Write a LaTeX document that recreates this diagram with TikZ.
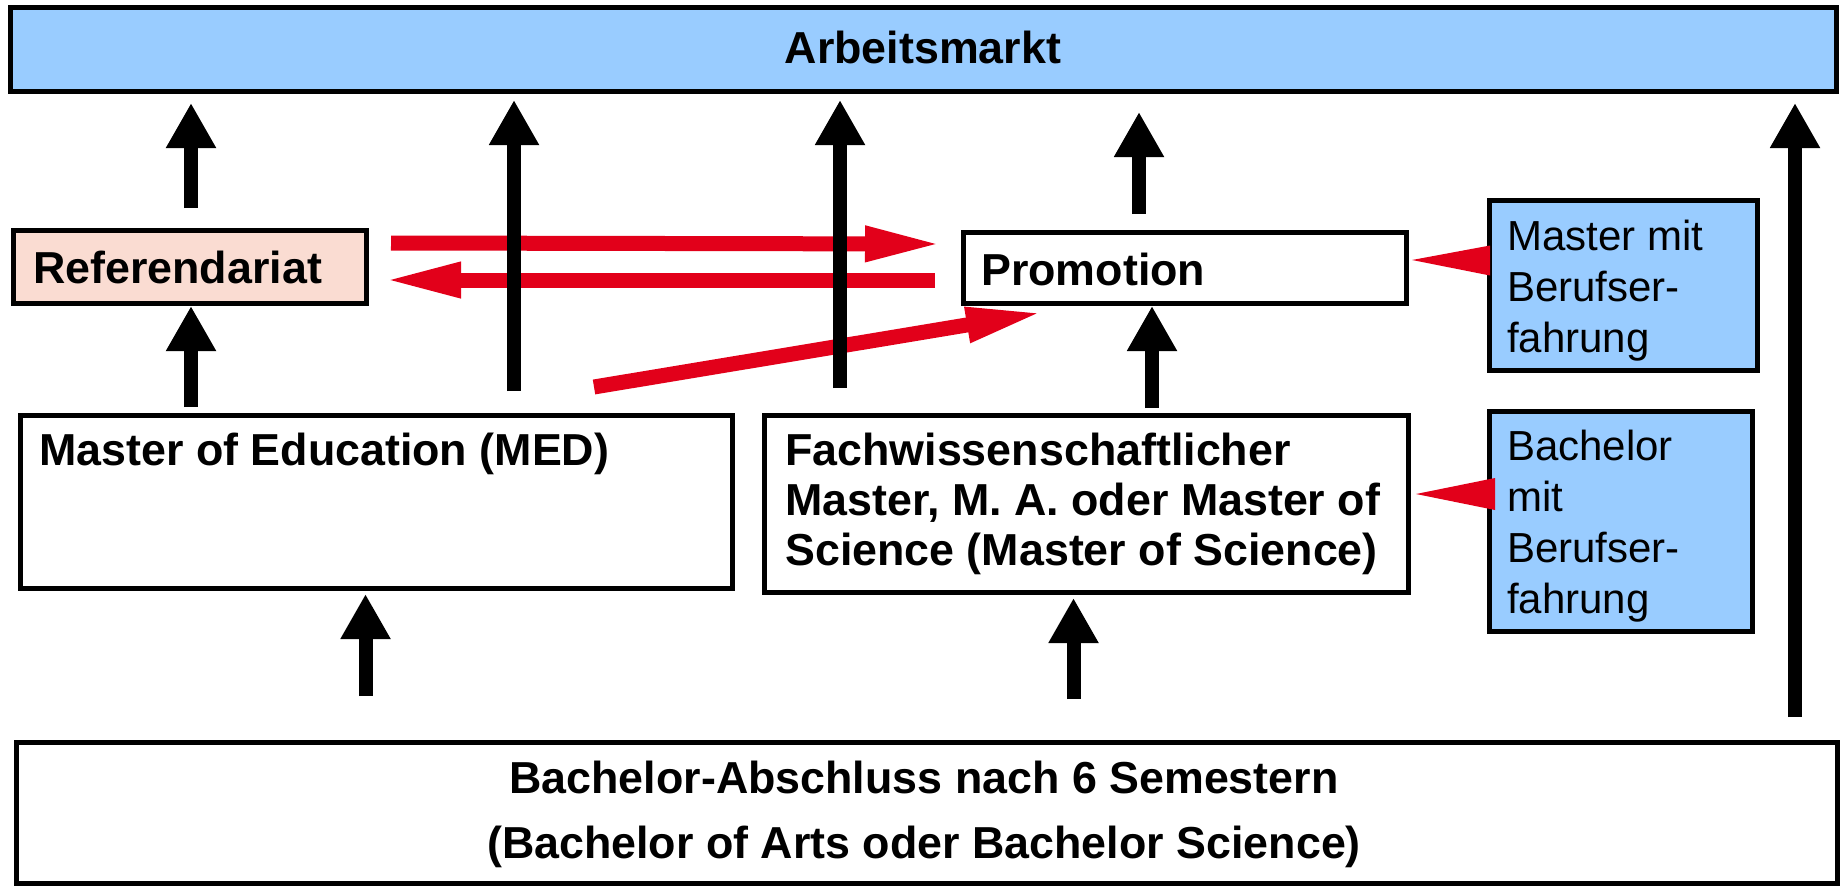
\documentclass[tikz,border=0pt]{standalone}
\usepackage{fontspec}
\setmainfont{Liberation Sans}
\usetikzlibrary{arrows.meta,calc}
\definecolor{lblue}{HTML}{99CCFF}
\definecolor{lpink}{HTML}{FADCD2}
\definecolor{myred}{HTML}{E2001A}
\tikzset{
  box/.style={draw=black, line width=5pt, inner sep=0pt, rectangle},
  blk/.style={draw=black, line width=14pt, -{Triangle[length=45pt,width=47pt]}},
  redarr/.style={draw=myred, line width=15pt, -{Triangle[length=79pt,width=32pt]}},
  btxt/.style={font=\bfseries\fontsize{44.8}{50}\selectfont, inner sep=0pt, align=left, anchor=base west},
  rtxt/.style={font=\fontsize{42}{51}\selectfont, inner sep=0pt, align=left, anchor=base west},
}
\begin{document}
\begin{tikzpicture}[x=1pt,y=-1pt]
\useasboundingbox (0,0) rectangle (1843,886);
% boxes
\node[box, fill=lblue, minimum width=1826pt, minimum height=84pt] (arb) at (923.5,49.5) {};
\node[box, fill=lpink, minimum width=353pt, minimum height=73pt] (ref) at (190,267) {};
\node[box, fill=white, minimum width=443pt, minimum height=71pt] (prom) at (1185,268) {};
\node[box, fill=lblue, minimum width=268pt, minimum height=170pt] (mm) at (1623.5,285.5) {};
\node[box, fill=white, minimum width=712pt, minimum height=173pt] (med) at (376.5,502) {};
\node[box, fill=white, minimum width=644pt, minimum height=177pt] (fach) at (1086.5,504) {};
\node[box, fill=lblue, minimum width=263pt, minimum height=220pt] (bm) at (1621,521.5) {};
\node[box, fill=white, minimum width=1821pt, minimum height=141pt] (bach) at (927,813) {};
% texts (base anchor = baseline of the last line)
\node[btxt, anchor=base] (arbt) at (923,63) {Arbeitsmarkt};
\node[btxt] (reft) at (33,283) {Referendariat};
\node[btxt] (promt) at (981,285) {Promotion};
\node[btxt] (medt) at (39,465) {Master of Education (MED)};
\node[btxt] (facht) at (785,565) {Fachwissenschaftlicher\\Master, M. A. oder Master of\\Science (Master of Science)};
\node[rtxt] (mmt) at (1507,352) {Master mit\\Berufser-\\fahrung};
\node[rtxt] (bmt) at (1507,613) {Bachelor\\mit\\Berufser-\\fahrung};
\node[btxt, font=\bfseries\fontsize{44.8}{65}\selectfont, align=center, anchor=base] (bacht) at (924,858) {Bachelor-Abschluss nach 6 Semestern\\(Bachelor of Arts oder Bachelor Science)};
% free tails
\coordinate (l1) at (514,391);
\coordinate (l2) at (840,388);
% red arrows
\draw[redarr] ($(ref.east)+(22,-24)$) -- ($(prom.west)+(-17,-24)$);
\draw[redarr] ($(prom.west)+(-26,12)$) -- ($(ref.east)+(13,13)$);
\draw[redarr] ($(med.north)+(217.5,-26)$) -- ($(prom.south)+(-140,6)$);
\fill[myred] ($(mm.west)+(3,-40)$) -- ($(mm.west)+(3,-10)$) -- ($(prom.east)+(3,-8)$) -- cycle;
\fill[myred] ($(bm.west)+(8,-43.5)$) -- ($(bm.west)+(8,-11.5)$) -- ($(fach.east)+(5,-10)$) -- cycle;
% black arrows
\draw[blk] ($(ref.north)+(1,-20)$) -- ($(ref.north |- arb.south)+(1,9)$);
\draw[blk] ($(ref.south |- med.north)+(1,-6)$) -- ($(ref.south)+(1,0)$);
\draw[blk] (l1) -- ($(l1 |- arb.south)+(0,6)$);
\draw[blk] (l2) -- ($(l2 |- arb.south)+(0,6)$);
\draw[blk] ($(prom.north)+(-46,-16)$) -- ($(prom.north |- arb.south)+(-46,18)$);
\draw[blk] ($(prom.south |- fach.north)+(-33,-5)$) -- ($(prom.south)+(-33,0)$);
\draw[blk] ($(med.south |- bach.north)+(-11,-44)$) -- ($(med.south)+(-11,3)$);
\draw[blk] ($(fach.south |- bach.north)+(-13,-41)$) -- ($(fach.south)+(-13,3)$);
\draw[blk] ($(bach.north)+(868,-23)$) -- ($(bach.north |- arb.south)+(868,9)$);
\end{tikzpicture}
\end{document}
